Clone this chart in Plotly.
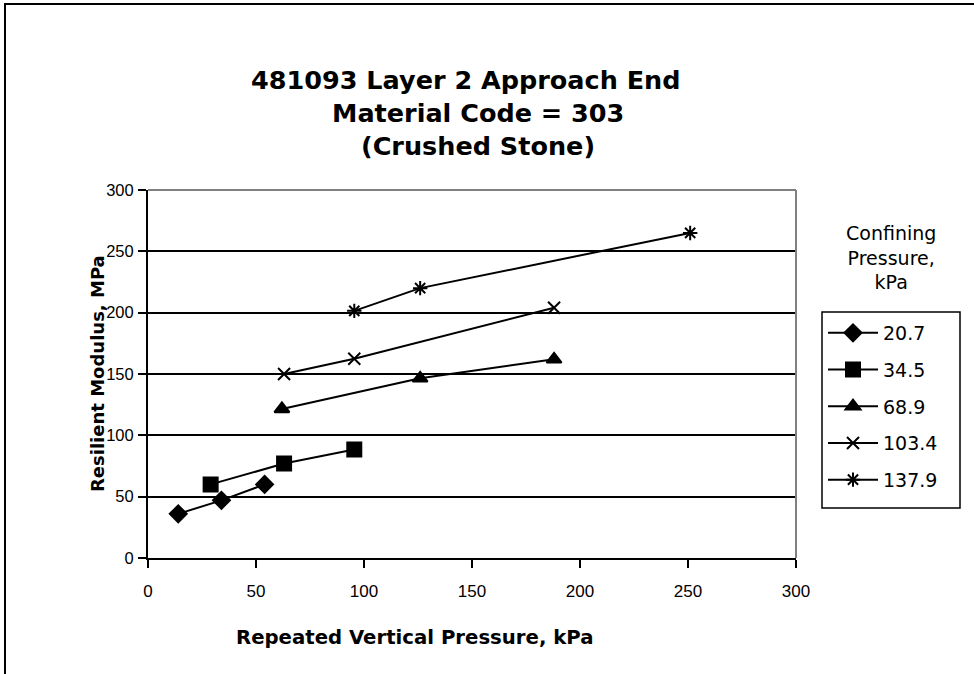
import plotly.graph_objects as go

# ---- data ----
series_names = ["20.7", "34.5", "68.9", "103.4", "137.9"]
x_207 = [14, 34, 54]
y_207 = [36, 47, 60]
x_345 = [29, 63, 95.5]
y_345 = [60, 77, 88.5]
x_689 = [62, 126, 188]
y_689 = [121.5, 146.5, 162]
x_1034 = [63, 95.5, 188]
y_1034 = [150, 162.5, 204]
x_1379 = [95.5, 126, 251]
y_1379 = [201.5, 220, 265]
tick_vals = [0, 50, 100, 150, 200, 250, 300]

FONT = "DejaVu Sans"
TICKFONT = "Liberation Sans, Arial"

xs = [x_207, x_345, x_689, x_1034, x_1379]
ys = [y_207, y_345, y_689, y_1034, y_1379]
symbols = ["diamond", "square", "triangle-up", "x-thin-open", "asterisk-open"]
sizes = [13, 14, 13, 12, 12]

fig = go.Figure()
for name, xv, yv, sym, sz in zip(series_names, xs, ys, symbols, sizes):
    fig.add_trace(go.Scatter(
        x=xv, y=yv, name=name, mode="lines+markers", legendgroup=name,
        line=dict(color="black", width=2),
        marker=dict(symbol=sym, size=sz, color="black",
                    line=dict(color="black", width=2)),
    ))

# plot area in page pixels: x 148..796, y 190..558
L, R, T, B = 148, 796, 190, 558
W, H = R - L, B - T

def px(x):
    return (x - L) / W

def py(y):
    return (B - y) / H

fig.update_layout(
    width=974, height=674,
    margin=dict(l=L, r=974 - R, t=T, b=674 - B),
    paper_bgcolor="white", plot_bgcolor="white",
    font=dict(family=FONT, size=17, color="black"),
    showlegend=True,
    legend=dict(
        x=px(823), y=py(314), xanchor="left", yanchor="top",
        borderwidth=0, bgcolor="rgba(0,0,0,0)",
        font=dict(family=FONT, size=19, color="black"),
        tracegroupgap=9, itemwidth=50,
    ),
    xaxis=dict(
        range=[0, 300], tickvals=tick_vals, showgrid=False, zeroline=False,
        showline=True, linecolor="black", linewidth=2,
        ticks="outside", ticklen=8, tickcolor="black", tickwidth=1.5,
        ticklabelstandoff=9,
        tickfont=dict(family=TICKFONT, size=17, color="black"),
    ),
    yaxis=dict(
        range=[0, 300], tickvals=tick_vals, showgrid=True, gridcolor="black",
        gridwidth=2, zeroline=False,
        showline=True, linecolor="black", linewidth=2,
        ticks="outside", ticklen=8, tickcolor="black", tickwidth=1.5,
        ticklabelstandoff=1,
        tickfont=dict(family=TICKFONT, size=16.5, color="black"),
    ),
)

# plot-area border (gray top/right), legend box and outer chart frame
fig.add_shape(type="line", xref="paper", yref="paper", x0=0, x1=1, y0=1, y1=1,
              line=dict(color="#808080", width=2), layer="above")
fig.add_shape(type="line", xref="paper", yref="paper", x0=1, x1=1, y0=0, y1=1,
              line=dict(color="#808080", width=2), layer="above")
fig.add_shape(type="rect", xref="paper", yref="paper",
              x0=px(822), x1=px(960), y0=py(508), y1=py(312),
              line=dict(color="black", width=1.5), fillcolor="white", layer="below")
fig.add_shape(type="rect", xref="paper", yref="paper",
              x0=px(5), x1=px(990), y0=py(690), y1=py(4),
              line=dict(color="black", width=2), fillcolor="rgba(0,0,0,0)")

# title lines
title_lines = ["481093 Layer 2 Approach End", "Material Code = 303", "(Crushed Stone)"]
title_x = [466, 478, 478]
title_y = [80, 113, 146]
for t, tx, ty in zip(title_lines, title_x, title_y):
    fig.add_annotation(text="<b>%s</b>" % t, xref="paper", yref="paper",
                       x=px(tx), y=py(ty), xanchor="center", yanchor="middle",
                       showarrow=False, font=dict(family=FONT, size=25.5, color="black"))

# axis titles
fig.add_annotation(text="<b>Repeated Vertical Pressure, kPa</b>", xref="paper", yref="paper",
                   x=px(415), y=py(637), xanchor="center", yanchor="middle",
                   showarrow=False, font=dict(family=FONT, size=19.7, color="black"))
fig.add_annotation(text="<b>Resilient Modulus, MPa</b>", xref="paper", yref="paper",
                   x=px(97), y=py(374), xanchor="center", yanchor="middle", textangle=-90,
                   showarrow=False, font=dict(family=FONT, size=18, color="black"))

# legend title (outside the legend box)
fig.add_annotation(text="Confining<br>Pressure,<br>kPa", xref="paper", yref="paper",
                   x=px(891), y=py(257), xanchor="center", yanchor="middle",
                   showarrow=False, align="center",
                   font=dict(family=FONT, size=19, color="black"))

fig.write_html("out.html", config={"displayModeBar": False},
               post_script="document.body.style.margin='0px';")
